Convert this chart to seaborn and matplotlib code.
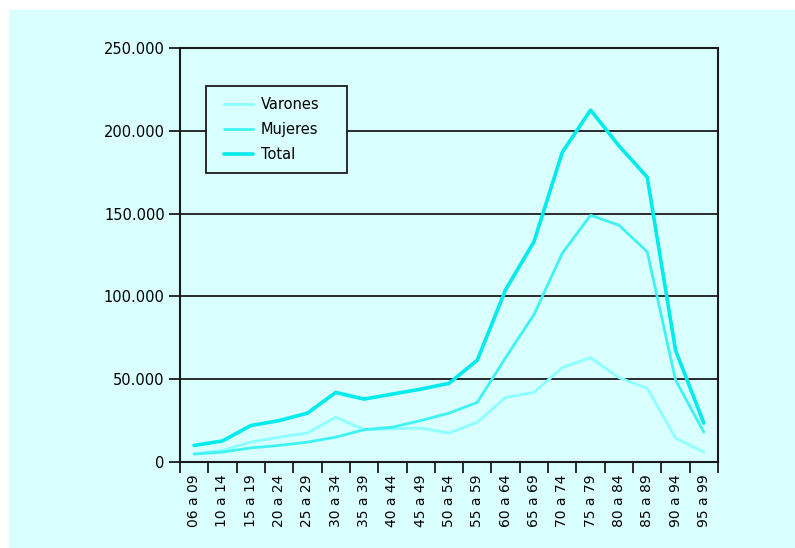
import pandas as pd
import numpy as np
import matplotlib
matplotlib.use("Agg")
import matplotlib.pyplot as plt
import matplotlib.ticker as mticker
from matplotlib.patches import Rectangle
from matplotlib.legend_handler import HandlerLine2D
import seaborn as sns

# Data
grupos = ["06 a 09", "10 a 14", "15 a 19", "20 a 24", "25 a 29", "30 a 34",
          "35 a 39", "40 a 44", "45 a 49", "50 a 54", "55 a 59", "60 a 64",
          "65 a 69", "70 a 74", "75 a 79", "80 a 84", "85 a 89", "90 a 94",
          "95 a 99"]
varones = [4800, 7000, 12000, 15000, 17500, 27000, 19500, 20000, 20500, 17500,
           24000, 39000, 42000, 57000, 63000, 51000, 44500, 14500, 6000]
mujeres = [4800, 6000, 8500, 10000, 12000, 15000, 19500, 21000, 25000, 29500,
           36000, 63000, 89000, 126000, 149000, 143000, 127000, 49500, 18000]
total = [10000, 12700, 22000, 25000, 29500, 42000, 38000, 41000, 44000, 47500,
         61500, 104000, 133000, 187000, 212500, 191000, 172000, 67500, 23500]

bg = "#D9FFFF"
series = [("Varones", varones, "#8CFFFF", 2.0),
          ("Mujeres", mujeres, "#3FF3F3", 2.0),
          ("Total", total, "#00EBEB", 2.6)]

sns.set_style("white")
plt.rcParams["font.family"] = ["DejaVu Sans"]
plt.rcParams["text.color"] = "black"
plt.rcParams["xtick.color"] = "black"
plt.rcParams["ytick.color"] = "black"

fig = plt.figure(figsize=(7.95, 5.48), dpi=100, facecolor="white")
fig.patches.append(Rectangle((9 / 795, 0), 1, 1 - 10 / 548, transform=fig.transFigure,
                             facecolor=bg, edgecolor="none", zorder=-10))
ax = fig.add_axes([180 / 795, 1 - 462 / 548, 538 / 795, 414 / 548])
ax.set_facecolor(bg)

for name, vals, col, lw in series:
    df = pd.DataFrame({"grupo": grupos, "valor": vals})
    sns.lineplot(data=df, x="grupo", y="valor", color=col, lw=lw, label=name,
                 ax=ax, sort=False)

ax.set_xlim(-0.5, len(grupos) - 0.5)
ax.set_ylim(0, 250000)
ax.yaxis.set_major_locator(mticker.MultipleLocator(50000))
ax.yaxis.set_major_formatter(mticker.FuncFormatter(
    lambda v, p: "0" if v == 0 else f"{int(v):,}".replace(",", ".")))
ax.grid(axis="y", color="#1a1a1a", lw=1.3)
ax.set_axisbelow(True)

ax.set_xticks(range(len(grupos)))
ax.set_xticklabels(grupos, rotation=90)
ax.set_xticks(np.arange(-0.5, len(grupos)), minor=True)
ax.tick_params(axis="x", which="major", length=0, pad=9, labelsize=10)
ax.tick_params(axis="x", which="minor", length=8, width=1.3, color="#1a1a1a",
               direction="out", bottom=True)
ax.tick_params(axis="y", length=8, width=1.3, color="#1a1a1a", direction="out",
               left=True, labelsize=10.5, pad=3)
ax.set_xlabel("")
ax.set_ylabel("")

for s in ax.spines.values():
    s.set_visible(True)
    s.set_color("#1a1a1a")
    s.set_linewidth(1.5)

leg = ax.legend(loc="upper left", bbox_to_anchor=(26 / 538, 0, 141 / 538, 376 / 414),
                mode="expand", borderaxespad=0, frameon=True, fancybox=False,
                fontsize=10.5, handlelength=2.5, borderpad=0.75, labelspacing=0.68,
                handletextpad=0.5,
                handler_map={plt.Line2D: HandlerLine2D(xpad=0.5)})
leg.get_frame().set_facecolor(bg)
leg.get_frame().set_edgecolor("#1a1a1a")
leg.get_frame().set_linewidth(1.3)
leg.get_frame().set_alpha(1)

fig.savefig("out.png", dpi=100, facecolor="white")
